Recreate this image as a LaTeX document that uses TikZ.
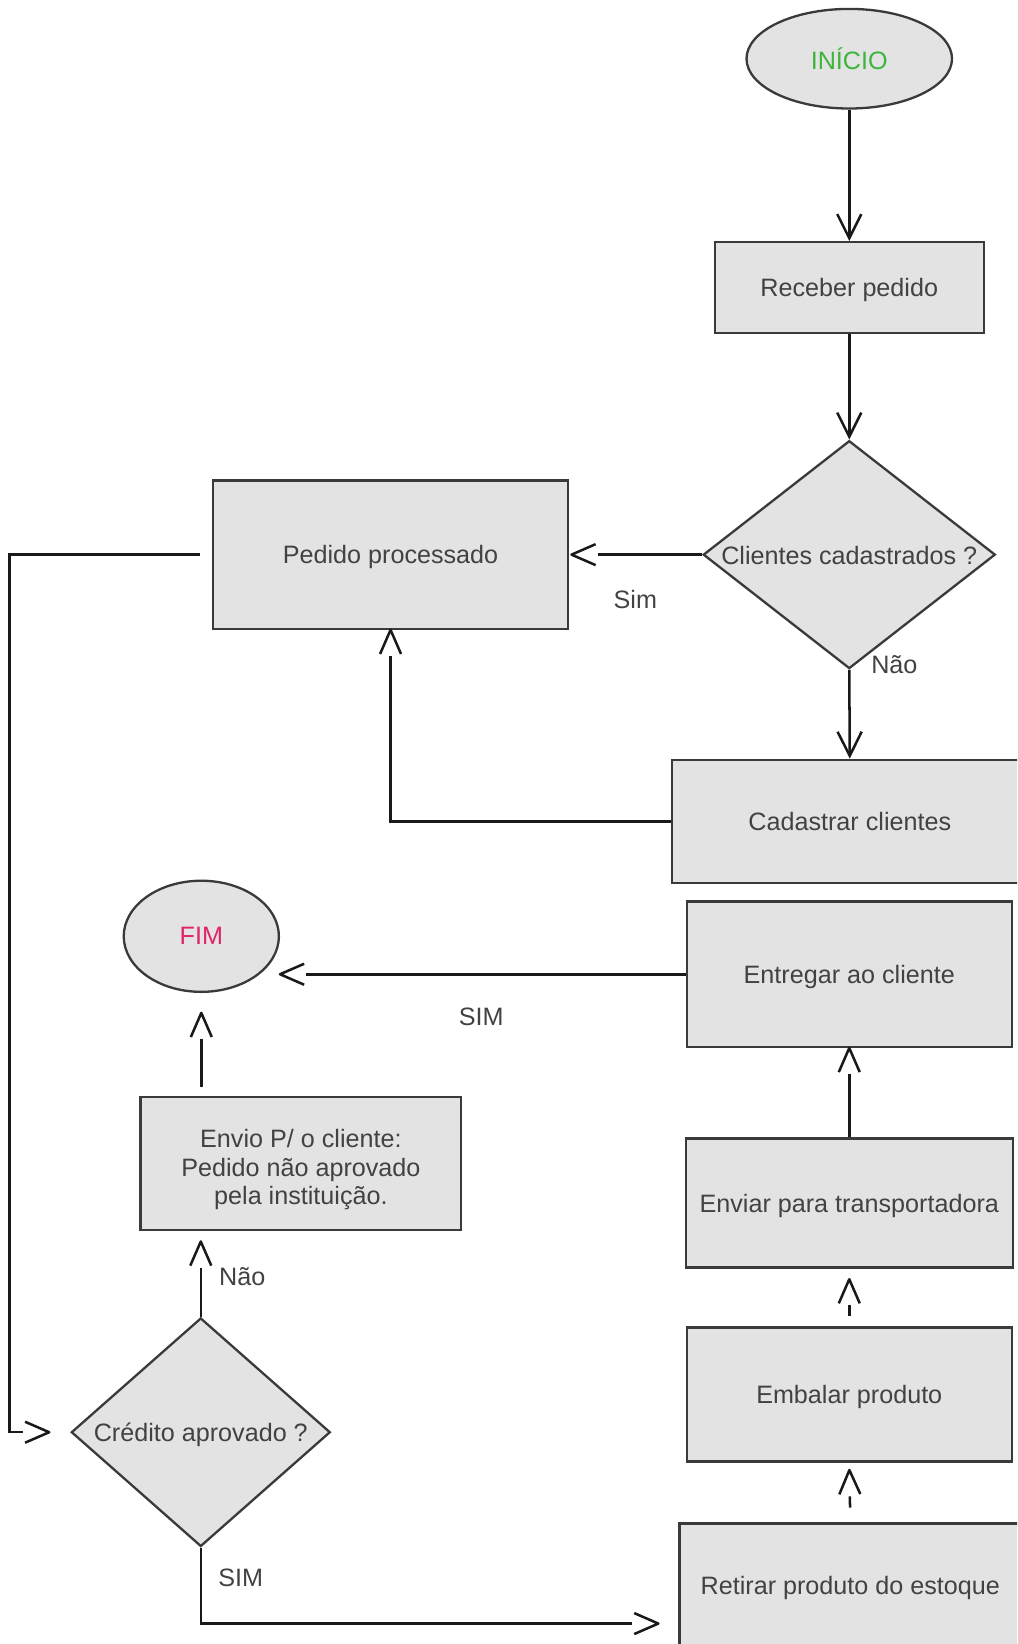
\documentclass[tikz,border=0pt]{standalone}
\usepackage{fontspec}
\setmainfont{Liberation Sans}
\usepackage{xcolor}
\usepackage{tikz}
\usetikzlibrary{shapes.geometric, arrows.meta}

\definecolor{boxfill}{HTML}{E3E3E3}
\definecolor{boxline}{HTML}{3A3A3A}
\definecolor{txt}{HTML}{424242}
\definecolor{startgreen}{HTML}{3DB53D}
\definecolor{endpink}{HTML}{E0236A}

\pgfdeclarearrow{
  name = OpenV,
  parameters = {\the\pgfarrowlength,\the\pgfarrowwidth},
  setup code = {
    \pgfarrowssettipend{\pgfarrowlength}
    \pgfarrowssetbackend{0pt}
    \pgfarrowssetlineend{-1pt}
    \pgfarrowssavethe\pgfarrowlength
    \pgfarrowssavethe\pgfarrowwidth
  },
  drawing code = {
    \pgfsetroundjoin
    \pgfsetbuttcap
    \pgfpathmoveto{\pgfqpoint{0pt}{.5\pgfarrowwidth}}
    \pgfpathlineto{\pgfqpoint{\pgfarrowlength}{0pt}}
    \pgfpathlineto{\pgfqpoint{0pt}{-.5\pgfarrowwidth}}
    \pgfusepathqstroke
  },
  defaults = {length=11.5pt, width=10pt}
}

\begin{document}
\begin{tikzpicture}[x=0.5pt, y=-0.5pt,
  font=\fontsize{12}{13.5}\selectfont, text=txt,
  every label/.style={text depth=0pt},
  process/.style={rectangle, draw=boxline, fill=boxfill, line width=1.1pt, inner sep=0pt, align=center, text depth=0pt},
  terminal/.style={ellipse, draw=boxline, fill=boxfill, line width=1.1pt, inner sep=0pt},
  decision/.style={diamond, draw=boxline, fill=boxfill, line width=1.1pt, inner sep=0pt},
  flow/.style={line width=1.2pt, black!90, -{OpenV}},
  flowdown/.style={line width=1.2pt, black!90, -{Straight Barb[length=11.5pt, width=11.5pt]}},
  lbl/.style={text=txt}]
  \useasboundingbox (0,0) rectangle (970,1568);
  \clip (0,0) rectangle (970,1568);

  \node[terminal, minimum width=98pt, minimum height=47.5pt, text=startgreen] (inicio) at (810,56) {INÍCIO};
  \node[process, minimum width=128.25pt, minimum height=43.3pt] (receber) at (810,274.3) {Receber pedido};
  \node[decision, minimum width=139.3pt, minimum height=108.7pt, label={[yshift=-0.5pt]center:Clientes cadastrados ?}] (clientes) at (810,529) {};
  \node[process, minimum width=169.5pt, minimum height=70.65pt] (pedido) at (372.5,529) {Pedido processado};
  \node[process, minimum width=169.5pt, minimum height=58.75pt] (cadastrar) at (810.5,783.4) {Cadastrar clientes};
  \node[process, minimum width=155pt, minimum height=69.25pt] (entregar) at (810,929.2) {Entregar ao cliente};
  \node[process, minimum width=156pt, minimum height=61.5pt] (enviar) at (810,1147.5) {Enviar para transportadora};
  \node[process, minimum width=155pt, minimum height=64pt] (embalar) at (810,1330) {Embalar produto};
  \node[process, minimum width=163pt, minimum height=59.5pt] (retirar) at (811,1512.5) {Retirar produto do estoque};
  \node[terminal, minimum width=74pt, minimum height=53pt, text=endpink] (fim) at (192,893) {FIM};
  \node[process, minimum width=153pt, minimum height=63.5pt, text height=39.3pt] (envio) at (287,1109.5) {Envio P/ o cliente:\\Pedido não aprovado\\pela instituição.};
  \node[decision, minimum width=123.5pt, minimum height=109pt, label=center:{Crédito aprovado ?}] (credito) at (191.5,1366) {};

  \node[lbl] (simA) at (606,572) {Sim};
  \node[lbl] (naoA) at (853,634) {Não};
  \node[lbl] (simB) at (459,970) {SIM};
  \node[lbl, anchor=west] (naoB) at (202,1218) {Não};
  \node[lbl] (simC) at (229.5,1505) {SIM};

  \draw[flowdown] (inicio) -- (receber);
  \draw[flowdown] (receber) -- (clientes);
  \draw[flow, shorten >=1pt] (clientes.west) -- (pedido.east);
  \draw[flowdown] (clientes.south) -- (cadastrar.north);
  \draw[flow] (cadastrar.west) -| (pedido.south);
  \draw[flow, shorten <=5.5pt, shorten >=10pt] (pedido.west) -- ++(-193,0) |- (credito.west);
  \draw[flow, shorten >=5pt] (credito.north) -- (credito.north |- envio.south);
  \draw[flow, shorten <=4pt, shorten >=9.5pt] (envio.north -| fim.south) -- (fim.south);
  \draw[flow] (entregar.west) -- (fim.east |- entregar.west);
  \draw[flow] (enviar.north) -- (entregar.south);
  \draw[flow, shorten <=5pt, shorten >=5pt] (embalar.north) -- (enviar.south);
  \draw[flow, shorten <=7pt, shorten >=3.5pt] (retirar.north) -- (embalar.south);
  \draw[flow, shorten >=9.5pt] (credito.south) |- ([yshift=-18pt]retirar.west);
\end{tikzpicture}
\end{document}
